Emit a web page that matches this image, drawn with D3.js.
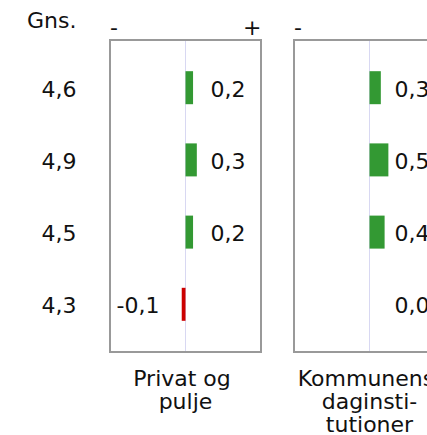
<!DOCTYPE html>
<html>
<head>
<meta charset="utf-8">
<script src="https://cdn.jsdelivr.net/npm/d3@7/dist/d3.min.js"></script>
<style>
html,body{margin:0;padding:0;background:#fff;}
svg{display:block;}
text{font-family:"DejaVu Sans",Verdana,sans-serif;font-size:22px;fill:#111;}
</style>
</head>
<body>
<svg id="chart" width="427" height="435"></svg>
<script>
const rows = ["r1","r2","r3","r4"];
const averages = ["4,6","4,9","4,5","4,3"];
const panelNames = [["Privat og ","pulje"],["Kommunens ","daginsti-","tutioner"]];
const privatValues = [0.2, 0.3, 0.2, -0.1];
const kommuneValues = [0.3, 0.5, 0.4, 0.0];
const avgHeader = "Gns.";

const panels = [privatValues, kommuneValues];
const fmt = v => d3.format(".1f")(v).replace(".", ",").replace("\u2212", "-");

const svg = d3.select("#chart");
const panelW = 151, panelTop = 40, panelBottom = 352;

const xPanel = d3.scaleBand().domain(d3.range(panels.length)).range([110, 110 + 184 * panels.length]).paddingInner(0).paddingOuter(0);
const y = d3.scaleBand().domain(rows).range([panelTop, panelBottom]).paddingInner(0.543).paddingOuter(0.432);
const x = d3.scaleLinear().domain([-2, 2]).range([0, panelW]);

svg.append("text").attr("x", 76.5).attr("y", 28).attr("text-anchor", "end").text(avgHeader);
svg.selectAll("text.avg").data(averages).join("text").attr("class", "avg")
  .attr("x", 76.5).attr("y", (d, i) => y(rows[i]) + y.bandwidth() / 2 + 9)
  .attr("text-anchor", "end").text(d => d);

panels.forEach((vals, p) => {
  const g = svg.append("g").attr("transform", `translate(${xPanel(p)},0)`);
  g.append("rect").attr("x", 0).attr("y", panelTop).attr("width", panelW).attr("height", panelBottom - panelTop)
    .attr("fill", "none").attr("stroke", "#999").attr("stroke-width", 2);
  g.append("line").attr("x1", x(0)).attr("x2", x(0)).attr("y1", panelTop + 1).attr("y2", panelBottom - 1)
    .attr("stroke", "#d8d8f2").attr("stroke-width", 1);
  g.append("text").attr("x", 0).attr("y", 35).text("-");
  g.append("text").attr("x", panelW + 0.5).attr("y", 35).attr("text-anchor", "end").text("+");
  g.selectAll("rect.bar").data(vals).join("rect").attr("class", "bar")
    .attr("x", d => x(Math.min(0, d)))
    .attr("width", d => Math.abs(x(d) - x(0)))
    .attr("y", (d, i) => y(rows[i]))
    .attr("height", y.bandwidth())
    .attr("fill", d => d < 0 ? "#cc0000" : "#339933");
  g.selectAll("text.val").data(vals).join("text").attr("class", "val")
    .attr("x", d => d < 0 ? x(0) - 26 : x(0) + 25)
    .attr("y", (d, i) => y(rows[i]) + y.bandwidth() / 2 + 9)
    .attr("text-anchor", d => d < 0 ? "end" : "start")
    .text(d => fmt(d));
  const t = g.append("text").attr("text-anchor", "middle").attr("xml:space", "preserve").style("white-space", "pre");
  panelNames[p].forEach((line, i) => {
    t.append("tspan").attr("x", panelW / 2).attr("y", 386 + i * 22.8).text(line);
  });
});
</script>
</body>
</html>
